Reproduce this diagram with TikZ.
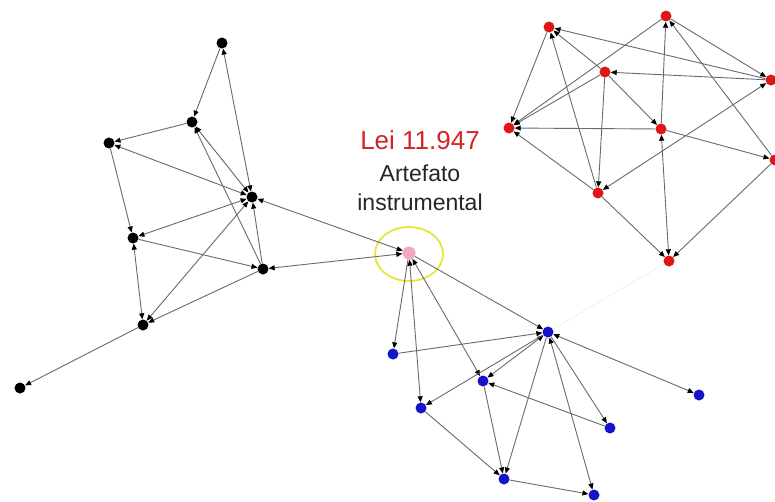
\documentclass[tikz,border=0pt]{standalone}
\usepackage{fontspec}
\setmainfont{Liberation Sans}
\usetikzlibrary{arrows.meta}
\definecolor{edgegray}{HTML}{6A6A6A}
\definecolor{nodered}{HTML}{E01515}
\definecolor{nodeblue}{HTML}{1414C8}
\definecolor{nodepink}{HTML}{F4A6C4}
\definecolor{ringyellow}{HTML}{E6E63C}
\definecolor{leired}{HTML}{D42424}
\begin{document}
\begin{tikzpicture}[x=1pt,y=-1pt,
  vtx/.style={circle,inner sep=0pt,minimum size=11pt},
  bk/.style={vtx,fill=black},
  rd/.style={vtx,fill=nodered},
  bl/.style={vtx,fill=nodeblue},
  pk/.style={vtx,fill=nodepink,minimum size=13pt},
  tip/.tip={Triangle[length=6pt,width=5pt,color=black]},
  ed/.style={draw=edgegray,line width=0.9pt,-tip},
  bd/.style={draw=edgegray,line width=0.9pt,tip-tip},
  lbl/.style={anchor=base,inner sep=0pt,font=\fontsize{23}{27}\selectfont}]
\fill[white] (0,0) rectangle (775,501);
\useasboundingbox (0,0) rectangle (775,501);
% black cluster
\node[bk] (B1) at (222,43) {};
\node[bk] (B2) at (192,122) {};
\node[bk] (B3) at (109,143) {};
\node[bk] (B4) at (252,197) {};
\node[bk] (B5) at (133,238) {};
\node[bk] (B6) at (263,269) {};
\node[bk] (B7) at (143,325) {};
\node[bk] (B8) at (20,388) {};
% pink
\node[pk] (P) at (409,253) {};
\draw[ringyellow,line width=1.8pt] (409,254) ellipse [x radius=34, y radius=27];
% red cluster
\node[rd] (R1) at (549,27) {};
\node[rd] (R2) at (666,16) {};
\node[rd] (R3) at (605,72) {};
\node[rd] (R4) at (771,80) {};
\node[rd] (R5) at (509,128) {};
\node[rd] (R6) at (661,129) {};
\node[rd] (R7) at (775,160) {};
\node[rd] (R8) at (598,193) {};
\node[rd] (R9) at (669,261) {};
% blue cluster
\node[bl] (U1) at (548,332) {};
\node[bl] (U2) at (393,354) {};
\node[bl] (U3) at (483,381) {};
\node[bl] (U4) at (421,408) {};
\node[bl] (U5) at (699,395) {};
\node[bl] (U6) at (610,428) {};
\node[bl] (U7) at (504,479) {};
\node[bl] (U8) at (594,495) {};
% labels
\node[lbl,text=leired,font=\fontsize{26}{30}\selectfont] (T1) at (420,149) {Lei 11.947};
\node[lbl,text=black!85] (T2) at (420,181) {Artefato};
\node[lbl,text=black!85] (T3) at (420,210) {instrumental};
% faint connector
\draw[black!6,line width=0.8pt] (U1) -- (R9);
% black edges
\draw[ed] (B1) -- (B2);
\draw[bd] (B1) -- (B4);
\draw[ed] (B2) -- (B3);
\draw[bd] (B4) -- (B2);
\draw[ed] (B6) -- (B2);
\draw[bd] (B4) -- (B3);
\draw[ed] (B3) -- (B5);
\draw[bd] (B4) -- (B5);
\draw[ed] (B5) -- (B6);
\draw[bd] (B5) -- (B7);
\draw[bd] (B4) -- (B7);
\draw[ed] (B6) -- (B7);
\draw[ed] (B6) -- (B4);
\draw[ed] (B7) -- (B8);
\draw[bd] (B6) -- (P);
\draw[bd] (B4) -- (P);
% pink to blue
\draw[ed] (P) -- (U2);
\draw[bd] (P) -- (U4);
\draw[bd] (P) -- (U3);
\draw[ed] (P) -- (U1);
% blue edges
\draw[ed] (U2) -- (U1);
\draw[bd] (U1) -- (U3);
\draw[ed] (U1) -- (U4);
\draw[ed] (U1) -- (U7);
\draw[ed] (U3) -- (U7);
\draw[ed] (U4) -- (U7);
\draw[ed] (U7) -- (U8);
\draw[bd] (U1) -- (U8);
\draw[ed] (U1) -- (U6);
\draw[ed] (U6) -- (U3);
\draw[bd] (U1) -- (U5);
% red edges
\draw[ed] (R1) -- (R5);
\draw[ed] (R4) -- (R1);
\draw[ed] (R8) -- (R1);
\draw[ed] (R3) -- (R1);
\draw[ed] (R2) -- (R5);
\draw[ed] (R3) -- (R5);
\draw[ed] (R6) -- (R5);
\draw[ed] (R8) -- (R5);
\draw[ed] (R3) -- (R8);
\draw[ed] (R4) -- (R3);
\draw[ed] (R6) -- (R2);
\draw[bd] (R6) -- (R9);
\draw[ed] (R6) -- (R7);
\draw[ed] (R7) -- (R2);
\draw[ed] (R2) -- (R4);
\draw[bd] (R8) -- (R4);
\draw[ed] (R8) -- (R9);
\draw[ed] (R7) -- (R9);
\draw[ed] (R3) -- (R6);
\end{tikzpicture}
\end{document}
